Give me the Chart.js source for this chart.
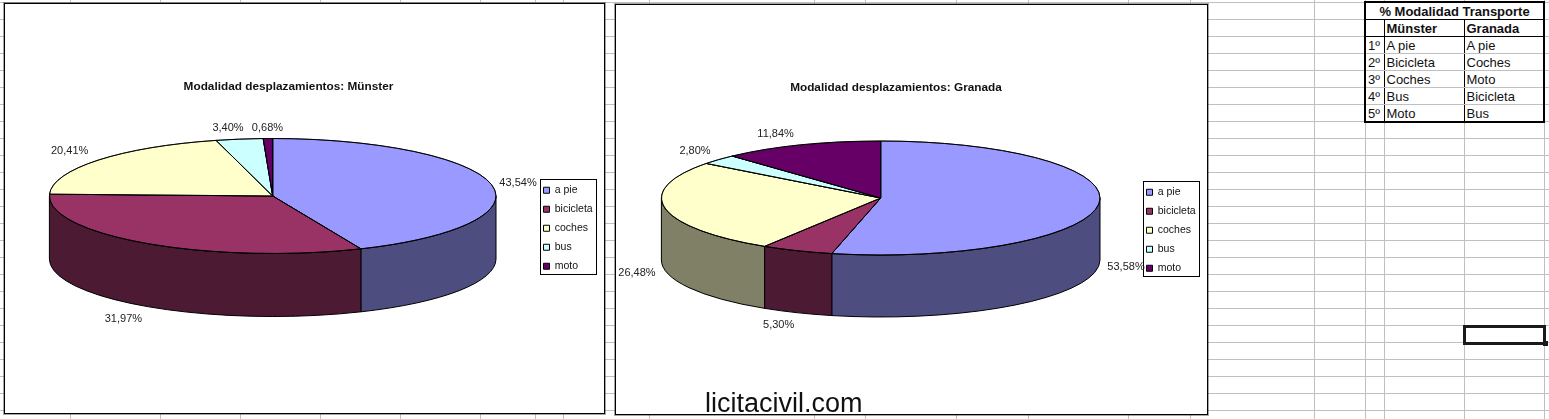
<!DOCTYPE html>
<html>
<head>
<meta charset="utf-8">
<title>Modalidad desplazamientos</title>
<script src="https://cdn.jsdelivr.net/npm/chart.js@4"></script>
<style>
  html, body { margin: 0; padding: 0; background: #fff; }
  body { position: relative; width: 1549px; height: 419px; overflow: hidden; font-family: "Liberation Sans", Arial, sans-serif; color: #111; }
  #sheet { position: absolute; left: 0; top: 0; width: 1549px; height: 419px; background-image: repeating-linear-gradient(to bottom, #c0c0c0 0, #c0c0c0 1px, transparent 1px, transparent 17px); background-position: 0 2px; }
  .vline { position: absolute; top: 0; width: 1px; height: 419px; background: #c0c0c0; }
  .frame { position: absolute; box-sizing: border-box; border: 1px solid #000; box-shadow: 0 0 0 1px rgba(0,0,0,.35); background: #fff; height: 411px; }
  #frameMunster { left: 4px; top: 3px; width: 601px; }
  #frameGranada { left: 615px; top: 4px; width: 593px; }
  canvas { display: block; }
  #rank { position: absolute; left: 1364px; top: 1px; border-collapse: collapse; table-layout: fixed; width: 181px; background: #fff; border: 2px solid #000; font-size: 13px; line-height: 15px; }
  #rank tr { height: 17px; }
  #rank td { padding: 1px 0 0 2px; border-left: 1px solid #000; border-bottom: 1px solid #c0c0c0; white-space: nowrap; overflow: hidden; }
  #rank tr.head td { border-bottom: 1px solid #000; font-weight: bold; }
  #rank td.title { text-align: center; padding: 1px 0 0 0; font-weight: bold; }
  #selected { position: absolute; left: 1463px; top: 325px; width: 83px; height: 20px; box-sizing: border-box; border: 3px solid #1a1a1a; }
  #handle { position: absolute; left: 1543px; top: 341px; width: 5px; height: 5px; background: #1a1a1a; }
  #brand { position: absolute; left: 705px; top: 387px; font-size: 27px; line-height: 32px; color: #111; }
</style>
</head>
<body>
<div id="sheet"></div>
<div class="frame" id="frameMunster"><canvas id="chartMunster" width="599" height="409"></canvas></div>
<div class="frame" id="frameGranada"><canvas id="chartGranada" width="591" height="409"></canvas></div>
<table id="rank"><colgroup><col style="width:19px"><col style="width:80px"><col style="width:80px"></colgroup><tbody id="rankBody"></tbody></table>
<div id="selected"></div><div id="handle"></div>
<div id="brand">licitacivil.com</div>

<script>
const categories = ["a pie", "bicicleta", "coches", "bus", "moto"];
const munsterValues = [43.54, 31.97, 20.41, 3.40, 0.68];
const granadaValues = [53.58, 5.30, 26.48, 2.80, 11.84];

const rankTitle = "% Modalidad Transporte";
const rankCities = ["Münster", "Granada"];
const rankOrder = ["1º", "2º", "3º", "4º", "5º"];
const rankMunster = ["A pie", "Bicicleta", "Coches", "Bus", "Moto"];
const rankGranada = ["A pie", "Coches", "Moto", "Bicicleta", "Bus"];

const topColors = ["#9999FF", "#993366", "#FFFFCC", "#CCFFFF", "#660066"];
const sideColors = ["#4D4D80", "#4D1A33", "#808066", "#668080", "#330033"];
const sheetColumns = [70, 160, 240, 320, 400, 480, 535, 563, 649, 814, 865, 956, 1028, 1128, 1190, 1314, 1365, 1384, 1464, 1544];

const $ = (id) => document.getElementById(id);
const pct = (v) => v.toFixed(2).replace(".", ",") + "%";

sheetColumns.forEach(x => {
  const d = document.createElement("div");
  d.className = "vline";
  d.style.left = x + "px";
  $("sheet").appendChild(d);
});

$("rankBody").innerHTML =
  `<tr class="head"><td class="title" colspan="3">${rankTitle}</td></tr>` +
  `<tr class="head"><td></td><td>${rankCities[0]}</td><td>${rankCities[1]}</td></tr>` +
  rankOrder.map((o, i) => `<tr><td>${o}</td><td>${rankMunster[i]}</td><td>${rankGranada[i]}</td></tr>`).join("");

// front wall of a slice: only the part of the rim facing the viewer
function wallPath(ctx, o, a, b) {
  const from = Math.max(a, 0), to = Math.min(b, Math.PI);
  if (to <= from) return false;
  ctx.beginPath();
  ctx.ellipse(o.cx, o.cy, o.rx, o.ry, 0, from, to);
  ctx.ellipse(o.cx, o.cy + o.depth, o.rx, o.ry, 0, to, from, true);
  ctx.closePath();
  return true;
}

const pie3d = {
  id: "pie3d",
  afterLayout(chart, args, o) {
    const lg = chart.legend;
    const w = lg.width, h = lg.height;
    lg.left = o.legendBox.x - 5; lg.right = lg.left + w;
    lg.top = o.legendBox.y - 2.5; lg.bottom = lg.top + h;
  },
  beforeDraw(chart, args, o) {
    const ctx = chart.ctx, b = o.legendBox;
    ctx.save();
    ctx.fillStyle = "#fff";
    ctx.strokeStyle = "#000";
    ctx.lineWidth = 1;
    ctx.fillRect(b.x, b.y, b.w, b.h);
    ctx.strokeRect(b.x + 0.5, b.y + 0.5, b.w, b.h);
    ctx.restore();
  },
  beforeDatasetsDraw(chart, args, o) {
    const ctx = chart.ctx;
    const arcs = chart.getDatasetMeta(0).data;
    ctx.save();
    ctx.strokeStyle = "#000";
    ctx.lineWidth = 1;
    arcs.forEach((arc, i) => {
      if (wallPath(ctx, o, arc.startAngle, arc.endAngle)) {
        ctx.fillStyle = sideColors[i];
        ctx.fill();
        ctx.stroke();
      }
    });
    arcs.forEach((arc) => {
      ctx.save();
      ctx.translate(o.cx, o.cy);
      ctx.scale(1, o.ry / o.rx);
      ctx.translate(-arc.x, -arc.y);
      arc.draw(ctx);
      ctx.beginPath();
      ctx.moveTo(arc.x, arc.y);
      ctx.arc(arc.x, arc.y, arc.outerRadius, arc.startAngle, arc.endAngle);
      ctx.closePath();
      ctx.restore();
      ctx.stroke();
    });
    ctx.restore();
    return false;
  },
  // returning false above also skips afterDatasetsDraw, so labels go here
  afterDraw(chart, args, o) {
    const ctx = chart.ctx;
    const arcs = chart.getDatasetMeta(0).data;
    const values = chart.data.datasets[0].data;
    ctx.save();
    ctx.font = "11px 'Liberation Sans'";
    ctx.fillStyle = "#222";
    ctx.textAlign = "center";
    ctx.textBaseline = "middle";
    arcs.forEach((arc, i) => {
      const mid = (arc.startAngle + arc.endAngle) / 2;
      const sy = Math.sin(mid);
      const x = o.cx + o.rx * Math.cos(mid) + o.labelNudge[i][0];
      const y = o.cy + o.ry * sy + (sy > 0 ? o.depth : 0) + o.labelNudge[i][1];
      ctx.fillText(pct(values[i]), x, y + 0.5);
    });
    ctx.restore();
  }
};

function makeChart(id, title, values, padRight, titleTop, geometry) {
  return new Chart($(id), {
    type: "pie",
    data: {
      labels: categories,
      datasets: [{ data: values, backgroundColor: topColors, borderColor: "#000", borderWidth: 1 }]
    },
    plugins: [pie3d],
    options: {
      responsive: false,
      animation: false,
      radius: geometry.rx,
      layout: { padding: { right: padRight } },
      plugins: {
        title: {
          display: true,
          text: title,
          color: "#111",
          font: { family: "'Liberation Sans'", size: 11.8, weight: "bold" },
          padding: { top: titleTop, bottom: 0 }
        },
        legend: {
          position: "right",
          align: "start",
          labels: {
            color: "#111",
            font: { family: "'Liberation Sans'", size: 10.5 },
            boxWidth: 6,
            boxHeight: 6,
            padding: 8.5
          }
        },
        tooltip: { enabled: false },
        pie3d: geometry
      }
    }
  });
}

makeChart("chartMunster", "Modalidad desplazamientos: Münster", munsterValues, 32, 76, {
  cx: 267.7, cy: 192, rx: 223.3, ry: 57.5, depth: 63,
  legendBox: { x: 535, y: 175, w: 56, h: 95 },
  labelNudge: [[26.6, -1.7], [-23.5, 11.5], [-28.5, -9.2], [-11.4, -12.1], [-0.5, -11.5]]
});

makeChart("chartGranada", "Modalidad desplazamientos: Granada", granadaValues, 31, 76, {
  cx: 264.7, cy: 193, rx: 219.3, ry: 57, depth: 62,
  legendBox: { x: 527, y: 176, w: 56, h: 95 },
  labelNudge: [[27.4, -0.4], [-18.4, 11.6], [-28, 2], [-23.6, -9.3], [-25.4, -11.6]]
});
</script>
</body>
</html>
